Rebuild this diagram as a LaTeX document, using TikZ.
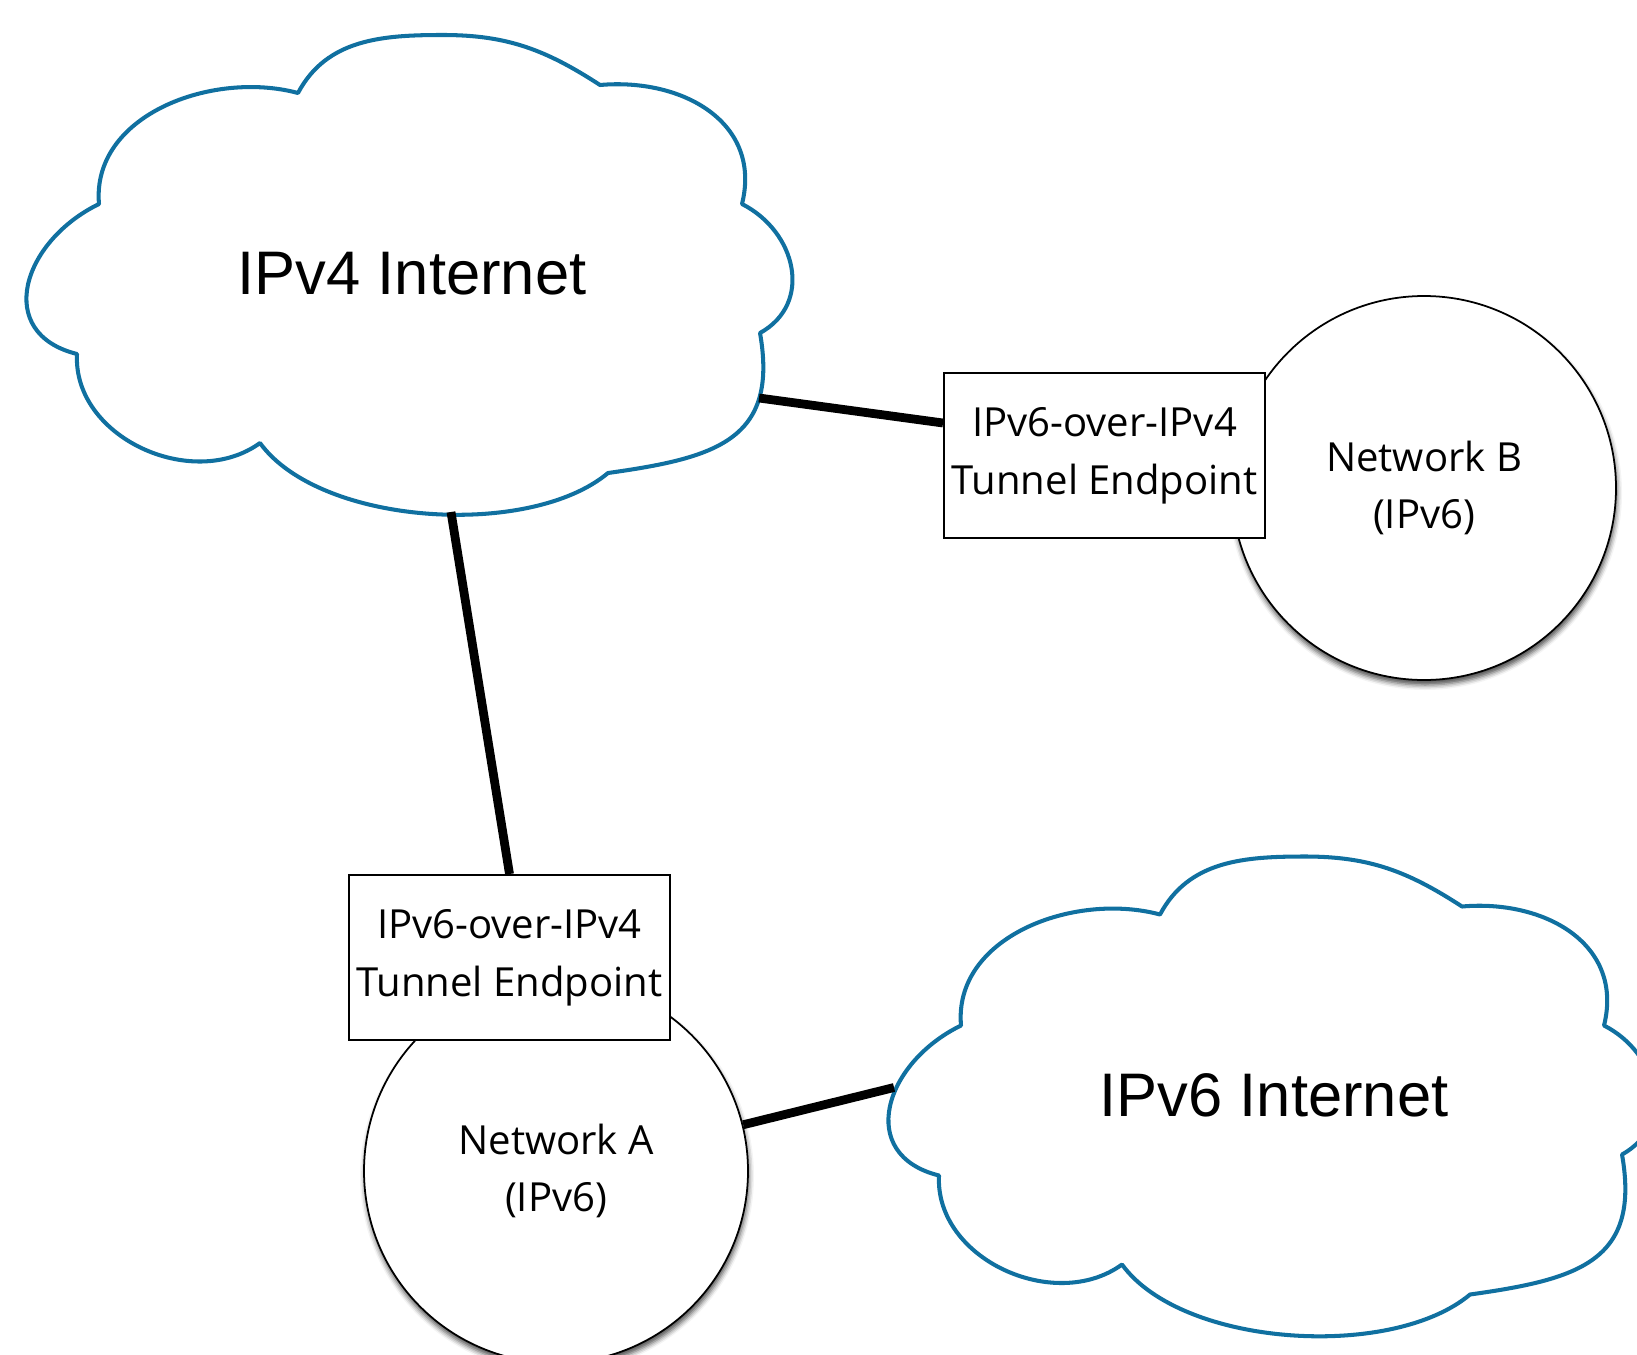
\documentclass[tikz,border=0pt]{standalone}
\usepackage{fontspec}
\setmainfont{Open Sans}
\newfontfamily\cloudfont{Liberation Sans}
\usepackage{tikz}
\usetikzlibrary{positioning,calc,shadows.blur}

\definecolor{cloudblue}{RGB}{16,112,160}

% outline of one cloud, drawn around (0,0)
\newcommand{\cloudoutline}{%
  (-3.13,0.70) to[out=95,in=165] (-1.14,1.81)
  to[out=62,in=180] (0.31,2.39) to[out=0,in=147] (1.88,1.89)
  to[out=5,in=76,looseness=1.15] (3.30,0.70)
  to[out=-27,in=29,looseness=1.2] (3.48,-0.59)
  to[out=-80,in=8,looseness=1.35] (1.96,-1.99)
  to[out=-140,in=-54,looseness=0.75] (-1.52,-1.69)
  to[out=-144,in=-93,looseness=1.05] (-3.35,-0.80)
  to[out=166,in=-154,looseness=1.45] (-3.13,0.70)
  -- cycle}

\begin{document}
\begin{tikzpicture}[
    cloudline/.style={draw=cloudblue, line width=1.15pt, line join=round},
    biglabel/.style={font=\cloudfont\fontsize{17.5}{21}\selectfont},
    endpoint/.style={draw, fill=white, line width=0.6pt, minimum width=3.21cm,
                     minimum height=1.65cm, inner sep=0pt, align=center,
                     font=\fontsize{11.4}{16.4}\selectfont},
    lan/.style={circle, draw, fill=white, line width=0.5pt, minimum size=3.84cm,
                align=center, font=\fontsize{11.4}{16.2}\selectfont,
                blur shadow={shadow xshift=0.01cm, shadow yshift=-0.05cm,
                             shadow blur radius=0.05cm, shadow opacity=70}},
    link/.style={line width=2.5pt}]

    \useasboundingbox (0,0) rectangle (16.37,-13.54);
    \clip (0,0) rectangle (16.37,-13.54);

    \node (v4) [biglabel] at (4.12,-2.74) {IPv4 Internet};
    \node (v6) [biglabel] at (12.74,-10.955) {IPv6 Internet};

    \node (netB) [lan] at (14.24,-4.88) {Network B\\(IPv6)};
    \node (tunB) [endpoint, left=-0.35cm of netB, yshift=0.325cm] {IPv6-over-IPv4\\Tunnel Endpoint};

    \node (netA) [lan] at (5.56,-11.71) {Network A\\(IPv6)};
    \node (tunA) [endpoint, above=-0.63cm of netA, xshift=-0.465cm] {IPv6-over-IPv4\\Tunnel Endpoint};

%    \node (mid) at ($(tunA)!0.5!(tunB)$) {};

    \draw[cloudline, shift={(v4)}] \cloudoutline;
    \draw[cloudline, shift={(v6)}] \cloudoutline;

    \coordinate (v4-s) at ($(v4)+(0.39,-2.38)$);
    \coordinate (v4-e) at ($(v4)+(3.47,-1.24)$);
    \coordinate (v6-w) at ($(v6)+(-3.80,0.08)$);

    \path[link] (v4-e) edge ([yshift=3.25mm]tunB.west);
    \path[link] (v4-s) edge (tunA.north);
    \path[link] (netA) edge (v6-w);

\end{tikzpicture}
\end{document}
